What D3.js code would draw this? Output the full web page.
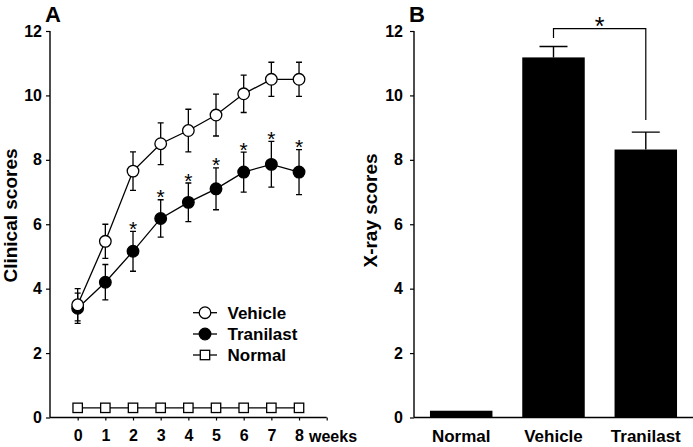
<!DOCTYPE html>
<html><head><meta charset="utf-8">
<script src="https://cdn.jsdelivr.net/npm/d3@7"></script>
<style>
body{margin:0;background:#fff;}
svg{display:block;font-family:"Liberation Sans",Arial,Helvetica,sans-serif;font-weight:bold;}
</style></head><body>
<svg id="c" width="693" height="447"></svg>
<script>
// ---- data ----
const weeks = [0,1,2,3,4,5,6,7,8];
const vehicleMean = [3.5,5.47,7.65,8.5,8.91,9.39,10.05,10.5,10.5];
const vehicleErr  = [0.5,0.53,0.6,0.65,0.66,0.65,0.58,0.53,0.53];
const tranilastMean = [3.39,4.2,5.16,6.18,6.68,7.1,7.62,7.86,7.62];
const tranilastErr  = [0.47,0.55,0.62,0.58,0.6,0.65,0.62,0.71,0.7];
const tranilastSig  = [false,false,true,true,true,true,true,true,true];
const normalMean = [0.3,0.3,0.3,0.3,0.3,0.3,0.3,0.3,0.3];
const yTicks = [0,2,4,6,8,10,12];
const legendLabels = ["Vehicle","Tranilast","Normal"];
const barCats = ["Normal","Vehicle","Tranilast"];
const barMean = [0.21,11.18,8.32];
const barErr  = [0,0.34,0.54];

const svg = d3.select("#c");
const stroke = "#000";

// ---- Panel A ----
const xA = d3.scaleLinear().domain([-1,9]).range([50,326.7]);
const yA = d3.scaleLinear().domain([0,12]).range([417.5,31]);

const gA = svg.append("g");
const yAxA = d3.axisLeft(yA).tickValues(yTicks).tickSize(4).tickPadding(4);
const gyA = gA.append("g").attr("transform","translate(50,0)").call(yAxA);
const xAxA = d3.axisBottom(xA).tickValues(d3.range(0,10)).tickSize(3).tickPadding(9)
  .tickFormat(d => d<=8 ? String(d) : "");
const gxA = gA.append("g").attr("transform","translate(0,417.5)").call(xAxA);
[gyA,gxA].forEach(g=>{
  g.select(".domain").attr("stroke",stroke).attr("stroke-width",1.4);
  g.selectAll(".tick line").attr("stroke",stroke).attr("stroke-width",1.2);
  g.selectAll("text").attr("fill","#000").style("font-size","16px").style("font-weight","bold");
});
gyA.select(".domain").attr("d","M0,"+yA(12)+"V"+yA(0));
gxA.select(".domain").attr("d","M50,0H326.7");
gA.append("text").attr("x",xA(8)+10).attr("y",441.5).style("font-size","16px").text("weeks");

function series(means, errs, fill, symbol, size){
  const g = gA.append("g");
  const pts = weeks.map((w,i)=>({x:xA(w), y:yA(means[i]), e:errs?errs[i]:0, m:means[i]}));
  g.append("path").attr("d", d3.line().x(d=>d.x).y(d=>d.y)(pts))
    .attr("fill","none").attr("stroke",stroke).attr("stroke-width",1.3);
  if(errs){
    pts.forEach(p=>{
      const t=yA(p.m+p.e), b=yA(p.m-p.e);
      g.append("path").attr("d",`M${p.x},${t}V${b}M${p.x-3},${t}H${p.x+3}M${p.x-3},${b}H${p.x+3}`)
        .attr("stroke",stroke).attr("stroke-width",1.3).attr("fill","none");
    });
  }
  pts.forEach(p=>{
    if(symbol==="circle"){
      g.append("circle").attr("cx",p.x).attr("cy",p.y).attr("r",size)
        .attr("fill",fill).attr("stroke",stroke).attr("stroke-width",1.3);
    } else {
      g.append("rect").attr("x",p.x-size).attr("y",p.y-size).attr("width",size*2).attr("height",size*2)
        .attr("fill",fill).attr("stroke",stroke).attr("stroke-width",1.3);
    }
  });
  return pts;
}
series(normalMean,null,"#fff","square",4.7);
const tp = series(tranilastMean,tranilastErr,"#000","circle",5.8);
series(vehicleMean,vehicleErr,"#fff","circle",5.8);
tp.forEach((p,i)=>{
  if(tranilastSig[i]){
    gA.append("text").attr("x",p.x).attr("y",yA(p.m+p.e)+4.5).attr("text-anchor","middle")
      .style("font-size","21px").style("font-weight","normal").text("*");
  }
});
const legY=[312.7,334,355];
const legFill=["#fff","#000","#fff"];
const legSym=["circle","circle","square"];
legendLabels.forEach((lab,i)=>{
  const g=gA.append("g");
  g.append("line").attr("x1",193).attr("x2",217).attr("y1",legY[i]).attr("y2",legY[i])
    .attr("stroke",stroke).attr("stroke-width",1.3);
  if(legSym[i]==="circle"){
    g.append("circle").attr("cx",205).attr("cy",legY[i]).attr("r",5.8)
      .attr("fill",legFill[i]).attr("stroke",stroke).attr("stroke-width",1.3);
  } else {
    g.append("rect").attr("x",205-4.7).attr("y",legY[i]-4.7).attr("width",9.4).attr("height",9.4)
      .attr("fill","#fff").attr("stroke",stroke).attr("stroke-width",1.3);
  }
  g.append("text").attr("x",227.5).attr("y",legY[i]+6).style("font-size","17px").text(lab);
});
gA.append("text").attr("transform","translate(16.5,215.5) rotate(-90)").attr("text-anchor","middle")
  .style("font-size","19px").text("Clinical scores");
gA.append("text").attr("x",45).attr("y",22).style("font-size","22px").text("A");

// ---- Panel B ----
const xB = d3.scaleBand().domain(barCats).range([414,693]).paddingInner(0.323).paddingOuter(0.173);
const yB = d3.scaleLinear().domain([0,12]).range([417.5,31]);
const gB = svg.append("g");
const gyB = gB.append("g").attr("transform","translate(414,0)")
  .call(d3.axisLeft(yB).tickValues(yTicks).tickSize(4).tickPadding(7));
gyB.select(".domain").attr("d","M0,"+yB(12)+"V"+yB(0)).attr("stroke",stroke).attr("stroke-width",1.4);
gyB.selectAll(".tick line").attr("stroke",stroke).attr("stroke-width",1.2);
gyB.selectAll("text").attr("fill","#000").style("font-size","16px").style("font-weight","bold");
const gxB = gB.append("g").attr("transform","translate(0,417.5)")
  .call(d3.axisBottom(xB).tickSize(0).tickPadding(12));
gxB.select(".domain").attr("d","M414,0H693").attr("stroke",stroke).attr("stroke-width",1.4);
gxB.selectAll("text").attr("fill","#000").style("font-size","17px").style("font-weight","bold");

barCats.forEach((c,i)=>{
  const x=xB(c), w=xB.bandwidth(), cx=x+w/2;
  if(barErr[i]>0){
    const t=yB(barMean[i]+barErr[i]);
    gB.append("path").attr("d",`M${cx},${yB(barMean[i])}V${t}M${cx-14},${t}H${cx+14}`)
      .attr("stroke",stroke).attr("stroke-width",1.4).attr("fill","none");
  }
  gB.append("rect").attr("x",x).attr("y",yB(barMean[i])).attr("width",w)
    .attr("height",yB(0)-yB(barMean[i])).attr("fill","#000");
});
const c1=xB("Vehicle")+xB.bandwidth()/2, c2=xB("Tranilast")+xB.bandwidth()/2;
gB.append("path").attr("d",`M${c1},38V28.7H${c2}V120`).attr("fill","none")
  .attr("stroke",stroke).attr("stroke-width",1.2);
gB.append("text").attr("x",(c1+c2)/2).attr("y",35).attr("text-anchor","middle")
  .style("font-size","25px").style("font-weight","normal").text("*");
gB.append("text").attr("transform","translate(376.5,210.5) rotate(-90)").attr("text-anchor","middle")
  .style("font-size","19px").text("X-ray scores");
gB.append("text").attr("x",409).attr("y",22).style("font-size","22px").text("B");
</script></body></html>
